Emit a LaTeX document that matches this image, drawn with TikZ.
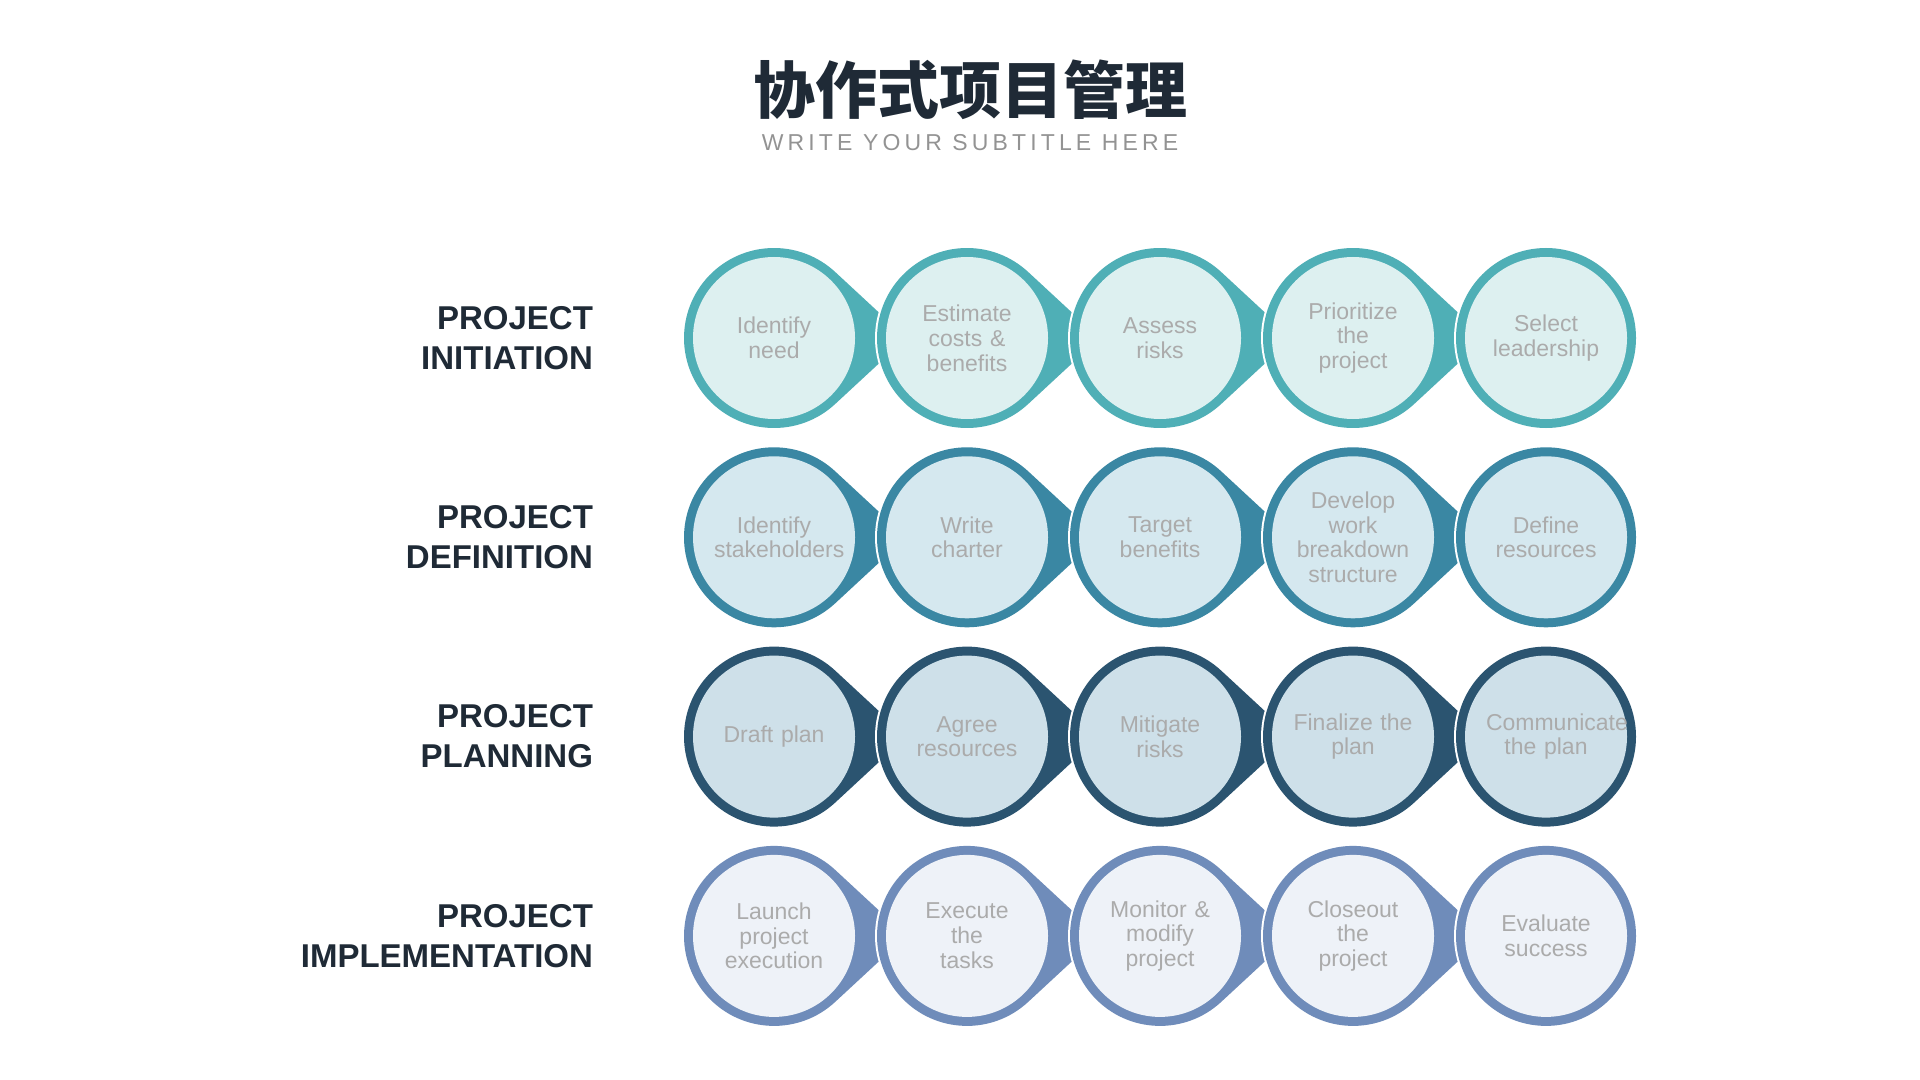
\documentclass[tikz,border=0pt]{standalone}
\usepackage{fontspec}
\setmainfont{Liberation Sans}
\newfontfamily\cjk{Noto Sans CJK SC}
\usetikzlibrary{calc}

\definecolor{ringA}{HTML}{4FAFB6}\definecolor{fillA}{HTML}{DDF0F0}
\definecolor{ringB}{HTML}{3A87A3}\definecolor{fillB}{HTML}{D5E8EF}
\definecolor{ringC}{HTML}{2B5470}\definecolor{fillC}{HTML}{CEE0E9}
\definecolor{ringD}{HTML}{6F8CBA}\definecolor{fillD}{HTML}{EEF2F8}
\definecolor{stepgray}{HTML}{ABABAB}
\definecolor{labeldark}{HTML}{1F2A36}

\tikzset{
  steptext/.style={text=stepgray, align=center, font=\fontsize{11.5}{12.4}\selectfont, text width=60pt},
  phase/.style={text=labeldark, align=right, anchor=east, font=\fontsize{16.5}{20}\selectfont\bfseries},
}

\begin{document}
\begin{tikzpicture}[x=0.5pt,y=-0.5pt]
\useasboundingbox (0,0) rectangle (1920,1080);

\node[font=\cjk\fontsize{31}{34}\selectfont\bfseries, text=labeldark] (title) at (970,90) {协作式项目管理};
\node[font=\fontsize{11.5}{12}\selectfont\addfontfeature{LetterSpace=18}, text=gray!85] (subtitle) at (970,143) {WRITE YOUR SUBTITLE HERE};

% rows of steps
\foreach \r/\ring/\fil/\lab/\steps in {
  1/ringA/fillA/{PROJECT\\INITIATION}/{Identify need,Estimate\\costs \&\\benefits,Assess risks,Prioritize the\\project,Select\\leadership},
  2/ringB/fillB/{PROJECT\\DEFINITION}/{Identify\\stakeholders,Write charter,Target\\benefits,Develop work\\breakdown\\structure,Define\\resources},
  3/ringC/fillC/{PROJECT\\PLANNING}/{Draft plan,Agree\\resources,Mitigate risks,Finalize the\\plan,Communicate\\the plan},
  4/ringD/fillD/{PROJECT\\IMPLEMENTATION}/{Launch\\project\\execution,Execute the\\tasks,Monitor \&\\modify\\project,Closeout the\\project,Evaluate\\success}}{
  \pgfmathsetmacro{\y}{338+199.3*(\r-1)}
  \node[phase] (phase-\r) at (600,\y) {\lab};
  \foreach \s [count=\c] in \steps {
    \pgfmathsetmacro{\x}{774+193*(\c-1)}
    \coordinate (c-\r-\c) at (\x,\y);
    \ifnum\c<5
      \filldraw[white, line width=5pt, miter limit=20] ($(c-\r-\c)+(47.2:87)$) arc[start angle=47.2, end angle=312.8, radius=87] -- ($(c-\r-\c)+(128,0)$) -- cycle;
      \filldraw[draw=\ring, fill=\ring, line width=3pt, miter limit=20] ($(c-\r-\c)+(47.2:87)$) arc[start angle=47.2, end angle=312.8, radius=87] -- ($(c-\r-\c)+(128,0)$) -- cycle;
    \else
      \filldraw[white, line width=5pt] (c-\r-\c) circle[radius=87];
      \filldraw[draw=\ring, fill=\ring, line width=3pt] (c-\r-\c) circle[radius=87];
    \fi
    \fill[\fil] (c-\r-\c) circle[radius=81];
    \node[steptext] (s-\r-\c) at (c-\r-\c) {\s};
  }
}
\end{tikzpicture}
\end{document}
